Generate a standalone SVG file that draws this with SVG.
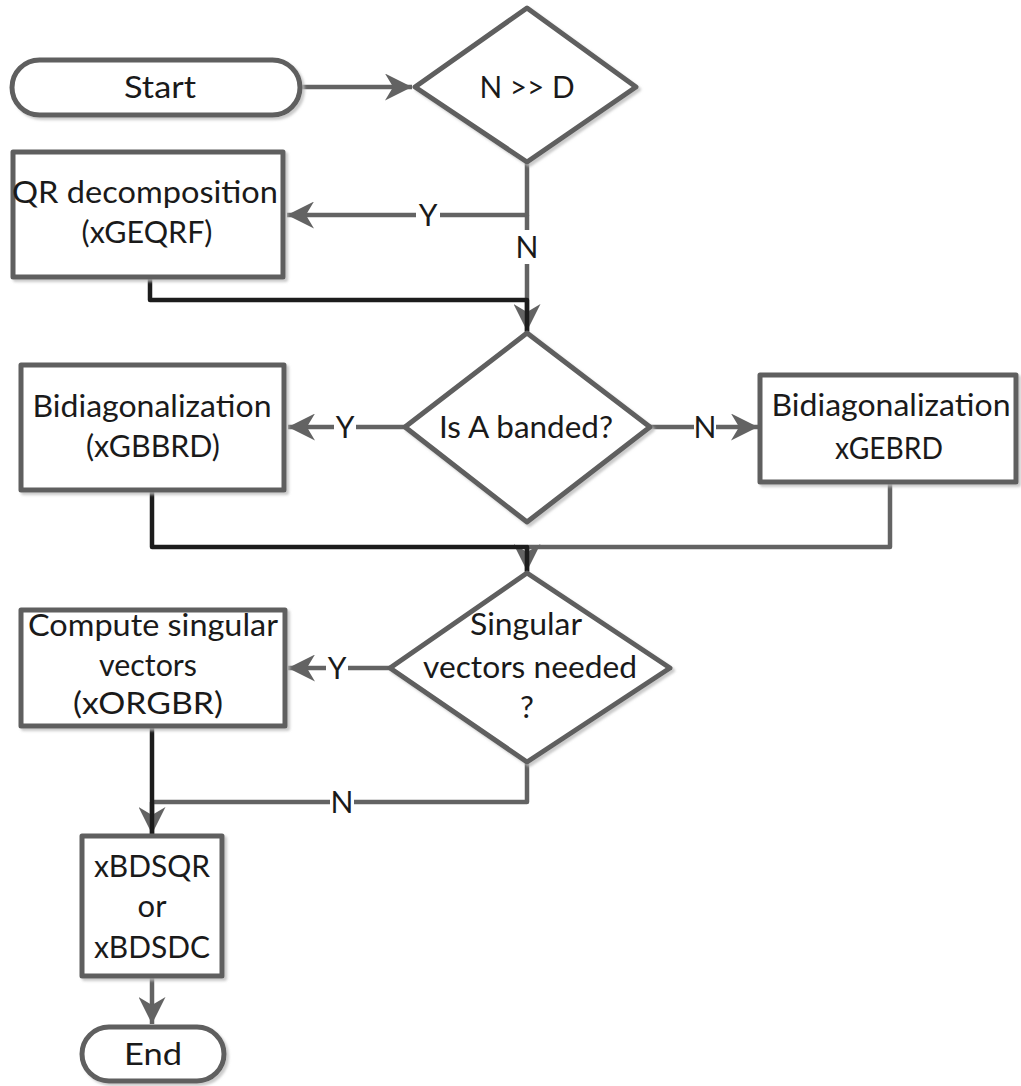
<svg xmlns="http://www.w3.org/2000/svg" width="1021" height="1086" viewBox="0 0 1021 1086">
<style>
.n{fill:#fff;stroke:#5e5e5e;stroke-width:5;stroke-linejoin:round;filter:url(#sh)}
.t{font-family:Lato,"Liberation Sans",Arial,sans-serif;font-size:31px;fill:#1a1a1a;text-anchor:middle}
.c{fill:none;stroke:#636363;stroke-width:4.5;stroke-linejoin:round}
.b{fill:none;stroke:#1c1c1c;stroke-width:4.5;stroke-linejoin:round}
.lb{fill:#fff}
.l{font-family:Lato,"Liberation Sans",Arial,sans-serif;font-size:30px;fill:#1a1a1a;text-anchor:middle}
</style>
<defs>
<filter id="sh" x="-10%" y="-10%" width="130%" height="130%">
<feDropShadow dx="2.5" dy="2.5" stdDeviation="1.2" flood-color="#bdbdbd" flood-opacity="0.8"/>
</filter>
<marker id="a" viewBox="0 0 10 10" refX="10" refY="5" markerWidth="6" markerHeight="6" orient="auto">
<path d="M0,0 L10,5 L0,10 L3,5 z" fill="#636363"/>
</marker>
</defs>
<rect width="1021" height="1086" fill="#fff"/>
<g id="connectors">
<path class="c" d="M300,87 H412" marker-end="url(#a)"/>
<path class="c" d="M527,162 V215 H287" marker-end="url(#a)"/>
<path class="c" d="M527,215 V331" marker-end="url(#a)"/>
<path class="b" d="M150,277 V300 H527 V333"/>
<path class="c" d="M405,427 H288" marker-end="url(#a)"/>
<path class="c" d="M650,427 H758" marker-end="url(#a)"/>
<path class="c" d="M890,482 V547 H527"/>
<path class="c" d="M527,547 V571" marker-end="url(#a)"/>
<path class="b" d="M152,490 V547 H527 V573"/>
<path class="c" d="M390,668 H288" marker-end="url(#a)"/>
<path class="c" d="M527,762 V802 H152"/>
<path class="c" d="M152,802 V834" marker-end="url(#a)"/>
<path class="b" d="M152,726 V836"/>
<path class="c" d="M152,976 V1024" marker-end="url(#a)"/>
<rect class="lb" x="416" y="200" width="24" height="30"/>
<text class="l" x="428" y="226">Y</text>
<rect class="lb" x="514" y="230" width="26" height="34"/>
<text class="l" x="527" y="258">N</text>
<rect class="lb" x="334" y="412" width="22" height="30"/>
<text class="l" x="345" y="438">Y</text>
<rect class="lb" x="694" y="412" width="22" height="30"/>
<text class="l" x="705" y="438">N</text>
<rect class="lb" x="326" y="653" width="22" height="30"/>
<text class="l" x="337" y="679">Y</text>
<rect class="lb" x="330" y="787" width="24" height="30"/>
<text class="l" x="342" y="813">N</text>
</g>
<g id="start">
<rect class="n" x="12" y="60" width="288" height="55" rx="27.5"/>
<text class="t" x="160" y="98" textLength="72" lengthAdjust="spacingAndGlyphs">Start</text>
</g>
<g id="nd">
<polygon class="n" points="527,8 636,87 527,162 415,87"/>
<text class="t" x="527" y="98" textLength="95" lengthAdjust="spacingAndGlyphs">N &gt;&gt; D</text>
</g>
<g id="qr">
<rect class="n" x="13" y="152" width="270" height="125"/>
<text class="t" x="145" y="203" textLength="266" lengthAdjust="spacingAndGlyphs">QR decomposition</text>
<text class="t" x="147" y="243" textLength="131" lengthAdjust="spacingAndGlyphs">(xGEQRF)</text>
</g>
<g id="banded">
<polygon class="n" points="527,333 650,427 527,522 405,427"/>
<text class="t" x="526" y="438" textLength="174" lengthAdjust="spacingAndGlyphs">Is A banded?</text>
</g>
<g id="gbbrd">
<rect class="n" x="21" y="365" width="263" height="125"/>
<text class="t" x="152" y="417" textLength="239" lengthAdjust="spacingAndGlyphs">Bidiagonalization</text>
<text class="t" x="153" y="457" textLength="134" lengthAdjust="spacingAndGlyphs">(xGBBRD)</text>
</g>
<g id="gebrd">
<rect class="n" x="760" y="375" width="256" height="107"/>
<text class="t" x="891" y="416" textLength="239" lengthAdjust="spacingAndGlyphs">Bidiagonalization</text>
<text class="t" x="889" y="459" textLength="108" lengthAdjust="spacingAndGlyphs">xGEBRD</text>
</g>
<g id="svneeded">
<polygon class="n" points="527,573 670,668 527,762 390,668"/>
<text class="t" x="526" y="635" textLength="112" lengthAdjust="spacingAndGlyphs">Singular</text>
<text class="t" x="530" y="678" textLength="214" lengthAdjust="spacingAndGlyphs">vectors needed</text>
<text class="t" x="527" y="718">?</text>
</g>
<g id="orgbr">
<rect class="n" x="21" y="610" width="264" height="116"/>
<text class="t" x="153" y="636" textLength="250" lengthAdjust="spacingAndGlyphs">Compute singular</text>
<text class="t" x="148" y="676" textLength="98" lengthAdjust="spacingAndGlyphs">vectors</text>
<text class="t" x="148" y="714" textLength="150" lengthAdjust="spacingAndGlyphs">(xORGBR)</text>
</g>
<g id="bdsqr">
<rect class="n" x="82" y="836" width="140" height="140"/>
<text class="t" x="152" y="877" textLength="116" lengthAdjust="spacingAndGlyphs">xBDSQR</text>
<text class="t" x="152" y="917">or</text>
<text class="t" x="152" y="958" textLength="116" lengthAdjust="spacingAndGlyphs">xBDSDC</text>
</g>
<g id="end">
<rect class="n" x="82" y="1027" width="142" height="54" rx="27"/>
<text class="t" x="153" y="1065" textLength="58" lengthAdjust="spacingAndGlyphs">End</text>
</g>
</svg>
